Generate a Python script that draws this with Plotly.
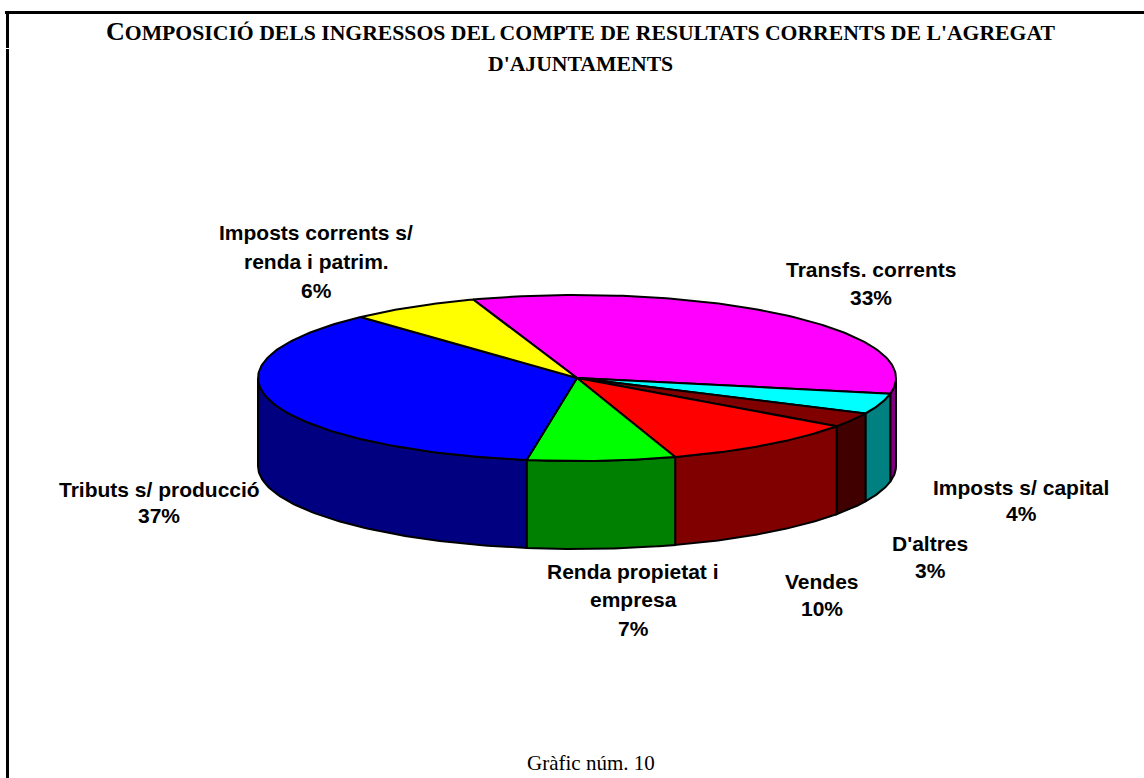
import numpy as np
import plotly.graph_objects as go

# Slices in drawing order, clockwise from the start angle
categories = ["Transfs. corrents", "Imposts s/ capital", "D'altres", "Vendes",
              "Renda propietat i empresa", "Tributs s/ producció",
              "Imposts corrents s/ renda i patrim."]
shares = [33.3, 4.0, 2.85, 10.15, 7.5, 35.6, 6.6]
top_colors = ["#FF00FF", "#00FFFF", "#800000", "#FF0000", "#00FF00", "#0000FF", "#FFFF00"]
side_colors = ["#800080", "#008080", "#400000", "#800000", "#008000", "#000080", "#808000"]

label_lines = [["Transfs. corrents", "33%"], ["Imposts s/ capital", "4%"], ["D'altres", "3%"],
               ["Vendes", "10%"], ["Renda propietat i", "empresa", "7%"],
               ["Tributs s/ producció", "37%"], ["Imposts corrents s/", "renda i patrim.", "6%"]]
label_x = [871, 1021, 930, 822, 633, 159, 316]
label_y = [[269, 297], [487, 513], [543, 570], [581, 608], [571, 599, 628], [489, 515], [232, 261, 290]]

START = -19.0
CX, CY, RX, RY, DEPTH = 577.0, 378.0, 319.0, 83.0, 88.0


def px(a):
    return CX + RX * np.sin(np.radians(a))


def py(a):
    return CY - RY * np.cos(np.radians(a))


bounds = START + np.concatenate([[0], np.cumsum(shares)]) * 360.0 / sum(shares)

fig = go.Figure()

# side walls (front half only)
for i in range(len(shares)):
    a0, a1 = max(bounds[i], 90), min(bounds[i + 1], 270)
    if a1 <= a0:
        continue
    t = np.linspace(a0, a1, 80)
    xs = np.concatenate([px(t), px(t[::-1]), [px(t[0])]])
    ys = np.concatenate([py(t), py(t[::-1]) + DEPTH, [py(t[0])]])
    fig.add_trace(go.Scatter(x=xs, y=ys, mode="lines", fill="toself", fillcolor=side_colors[i],
                             line=dict(color="black", width=2), hoverinfo="skip"))

# top wedges
for i in range(len(shares)):
    t = np.linspace(bounds[i], bounds[i + 1], 120)
    xs = np.concatenate([[CX], px(t), [CX]])
    ys = np.concatenate([[CY], py(t), [CY]])
    fig.add_trace(go.Scatter(x=xs, y=ys, mode="lines", fill="toself", fillcolor=top_colors[i],
                             line=dict(color="black", width=2), hoverinfo="text",
                             text=categories[i]))

anns = []
for lines, x, ys in zip(label_lines, label_x, label_y):
    for line, y in zip(lines, ys):
        anns.append(dict(x=x, y=y, text=f"<b>{line}</b>", showarrow=False, xanchor="center", yanchor="middle",
                         align="center", font=dict(family="Liberation Sans", size=21, color="black")))

SERIF = "Liberation Serif"
anns.append(dict(x=580, y=31, showarrow=False, xanchor="center", yanchor="middle",
                 text="<b><span style='font-size:26px'>C</span>OMPOSICIÓ DELS INGRESSOS DEL COMPTE DE RESULTATS CORRENTS DE L'AGREGAT</b>",
                 font=dict(family=SERIF, size=21.7, color="black")))
anns.append(dict(x=580, y=64, showarrow=False, xanchor="center", yanchor="middle",
                 text="<b>D'AJUNTAMENTS</b>", font=dict(family=SERIF, size=21.7, color="black")))
anns.append(dict(x=591, y=763, showarrow=False, xanchor="center", yanchor="middle",
                 text="Gràfic núm. 10", font=dict(family=SERIF, size=21, color="black")))

shapes = [
    dict(type="line", x0=5, x1=1144, y0=12.5, y1=12.5, line=dict(color="black", width=3)),
    dict(type="line", x0=7.5, x1=7.5, y0=11, y1=778, line=dict(color="black", width=3)),
    dict(type="line", x0=5, x1=10, y0=48.5, y1=48.5, line=dict(color="white", width=1)),
]

fig.update_layout(
    width=1144, height=778, margin=dict(l=0, r=0, t=0, b=0), showlegend=False,
    paper_bgcolor="white", plot_bgcolor="white", annotations=anns, shapes=shapes,
    xaxis=dict(range=[0, 1144], visible=False, fixedrange=True),
    yaxis=dict(range=[778, 0], visible=False, fixedrange=True),
)
fig.write_html("out.html", config=dict(displayModeBar=False),
               post_script="document.body.style.margin='0';document.body.style.overflow='hidden';")
